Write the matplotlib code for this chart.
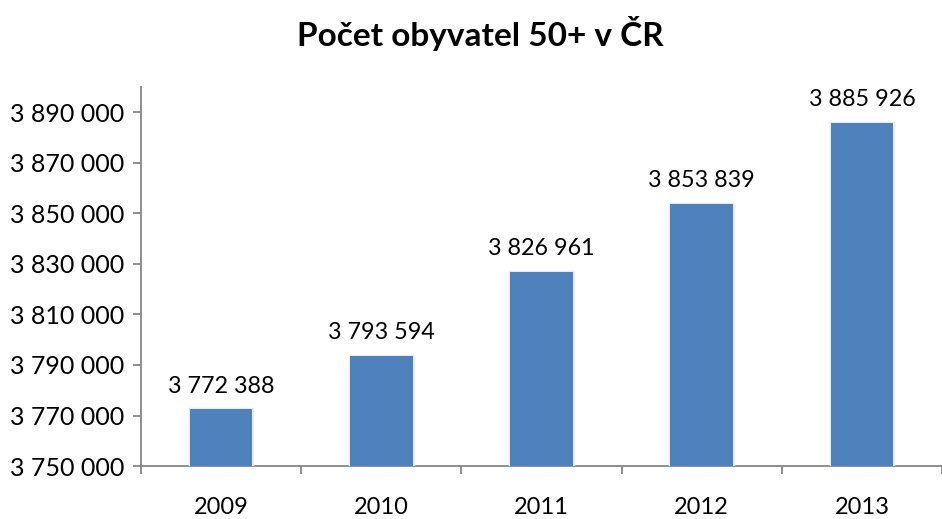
import matplotlib
matplotlib.use("Agg")
import matplotlib.pyplot as plt
from matplotlib.ticker import FuncFormatter, FixedLocator
import matplotlib.patheffects as pe

years = ["2009", "2010", "2011", "2012", "2013"]
values = [3772388, 3793594, 3826961, 3853839, 3885926]
yticks = [3750000, 3770000, 3790000, 3810000, 3830000, 3850000, 3870000, 3890000]

def fmt(v):
    return f"{int(round(v)):,}".replace(",", " ")

plt.rcParams['font.family'] = ['Lato', 'DejaVu Sans']

fig = plt.figure(figsize=(9.42, 5.19), dpi=100)
ax = fig.add_axes([0.1497, 0.102, 0.8503, 0.7304])

x = list(range(len(years)))
bars = ax.bar(x, values, width=0.39, color="#4F81BD", zorder=3,
              path_effects=[pe.withStroke(linewidth=2.5, foreground="#ebebeb")])

for xi, v in zip(x, values):
    ax.annotate(fmt(v), (xi, v), xytext=(0, 12), textcoords="offset points",
                ha="center", va="baseline", fontsize=16.8, color="#000000")

ax.set_xlim(-0.5, len(years) - 0.5)
ax.set_ylim(3750000, 3900000)
ax.yaxis.set_major_locator(FixedLocator(yticks))
ax.yaxis.set_major_formatter(FuncFormatter(lambda v, p: fmt(v)))
ax.set_xticks(x)
ax.set_xticklabels(years)
ax.set_xticks([i - 0.5 for i in range(len(years) + 1)], minor=True)

for s in ["top", "right"]:
    ax.spines[s].set_visible(False)
for s in ["left", "bottom"]:
    ax.spines[s].set_color("#868686")
    ax.spines[s].set_linewidth(1.3)

ax.tick_params(axis="y", which="major", length=6, width=1.3, color="#868686",
               labelsize=18, pad=6)
ax.tick_params(axis="x", which="major", length=0, labelsize=17, pad=22)
ax.tick_params(axis="x", which="minor", length=6, width=1.3, color="#868686")

fig.text(0.51, 0.936, "Počet obyvatel 50+ v ČR", ha="center", va="center",
         fontsize=24, fontweight="bold")

fig.savefig("out.png", dpi=100)
